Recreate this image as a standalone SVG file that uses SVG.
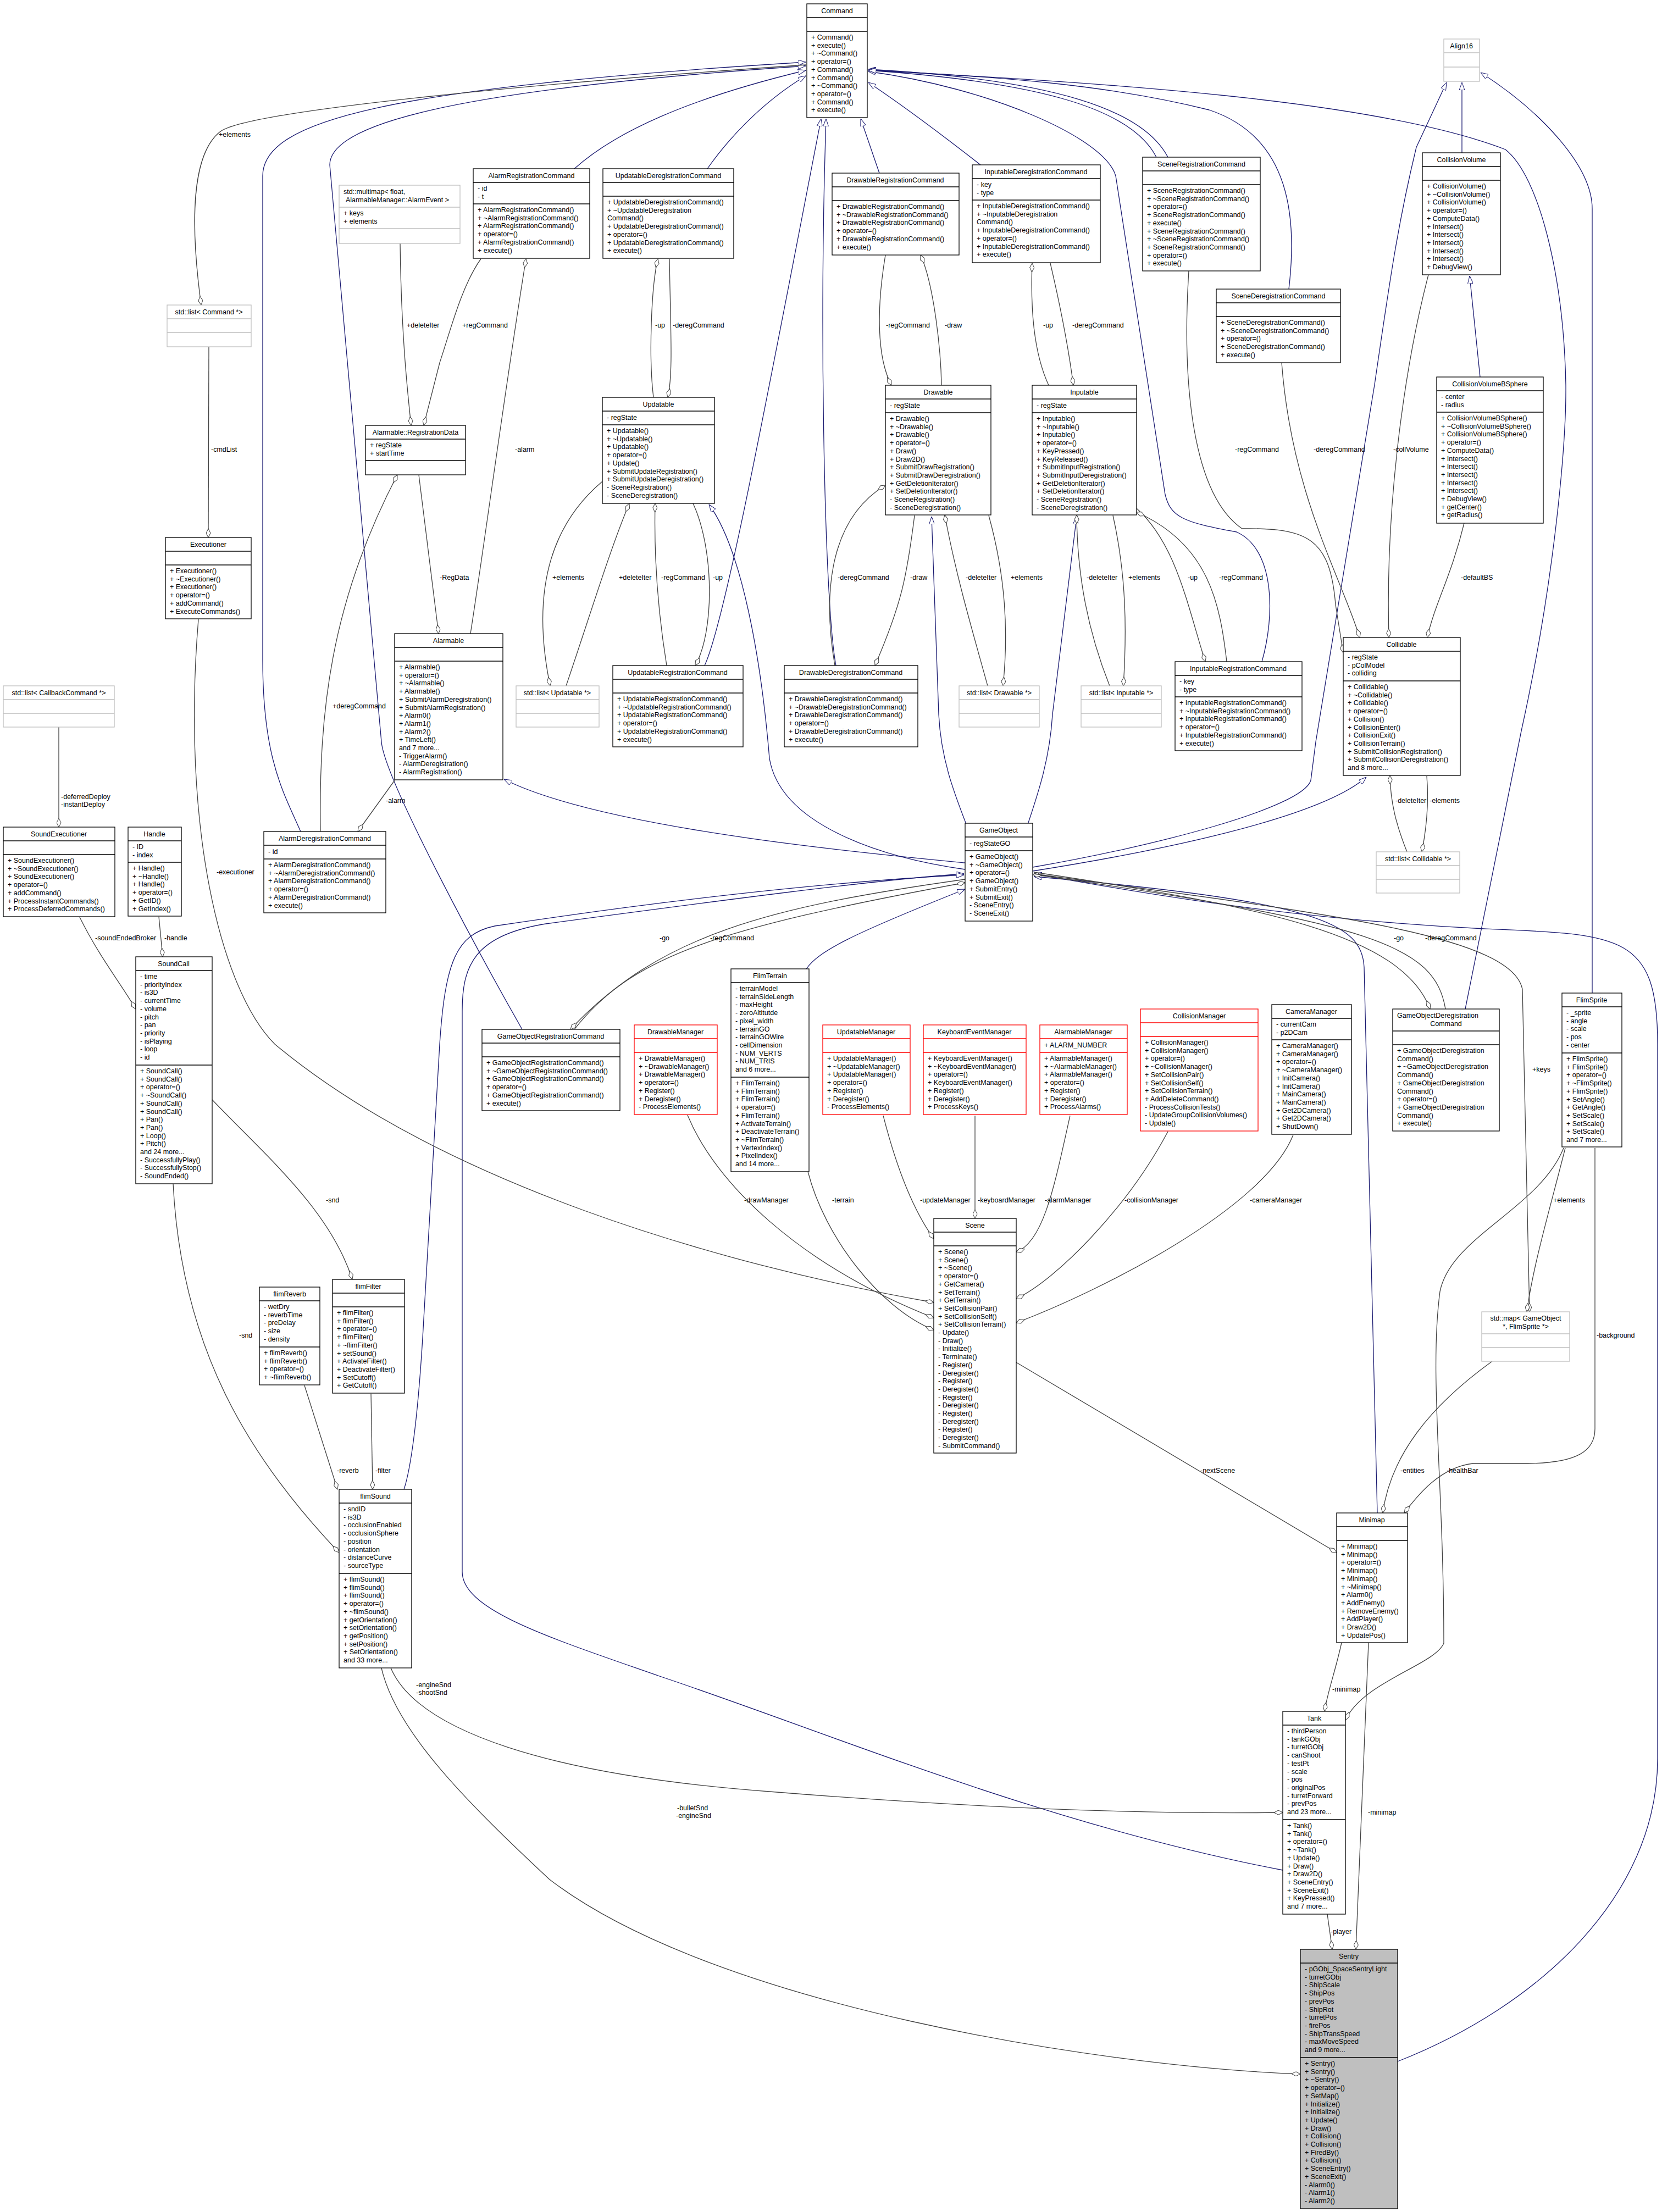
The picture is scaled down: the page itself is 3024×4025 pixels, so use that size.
<svg xmlns="http://www.w3.org/2000/svg" width="3024" height="4025" viewBox="0 0 3024 4025">
<style>
text{font-family:"Liberation Sans",Arial,sans-serif;font-size:12.5px;fill:#000}
.c{text-anchor:middle}
.b{fill:#fff;stroke:#000;stroke-width:1.3}
.g{fill:#fff;stroke:#bfbfbf;stroke-width:1.3}
.r{fill:#fff;stroke:#ff0000;stroke-width:1.3}
.s{fill:#bfbfbf;stroke:#000;stroke-width:1.3}
.lb{stroke:#000;stroke-width:1.3}
.lg{stroke:#bfbfbf;stroke-width:1.3}
.lr{stroke:#ff0000;stroke-width:1.3}
.inh{fill:none;stroke:#191970;stroke-width:1.3;marker-end:url(#tri)}
.use{fill:none;stroke:#404040;stroke-width:1.3;marker-end:url(#dia)}
</style>
<defs>
<marker id="tri" viewBox="0 0 14 10" refX="14" refY="5" markerWidth="14" markerHeight="10" markerUnits="userSpaceOnUse" orient="auto"><path d="M0,0 L14,5 L0,10 Z" fill="#fff" stroke="#191970"/></marker>
<marker id="dia" viewBox="0 0 18 9" refX="17" refY="4.5" markerWidth="18" markerHeight="9" markerUnits="userSpaceOnUse" orient="auto"><path d="M1,4.5 L9,0.5 L17,4.5 L9,8.5 Z" fill="#fff" stroke="#404040"/></marker>
</defs>
<rect width="3024" height="4025" fill="#fff"/>
<g id="connectors">
<path class="inh" d="M547,1513 C515,1440 478,1380 478,1200 L478,320 C478,220 700,160 1466,113"/>
<path class="inh" d="M950,1873 C880,1750 700,1420 694,1350 L600,300 C600,230 800,165 1466,120"/>
<path class="inh" d="M1045,307 C1120,240 1250,180 1466,128"/>
<path class="inh" d="M1287,307 C1320,260 1380,190 1466,138"/>
<path class="inh" d="M1282,1211 C1320,1130 1400,700 1494,216"/>
<path class="inh" d="M1521,1211 C1500,1100 1490,600 1503,216"/>
<path class="inh" d="M1600,315 L1566,216"/>
<path class="inh" d="M1784,300 C1720,250 1640,190 1580,150"/>
<path class="inh" d="M2296,1204 C2320,1120 2320,1000 2250,968 C2150,950 2130,940 2120,900 L2030,320 C2010,250 1800,160 1580,130"/>
<path class="inh" d="M2104,286 C2060,200 1900,150 1580,128"/>
<path class="inh" d="M2125,286 C2080,200 1920,145 1580,126"/>
<path class="inh" d="M2345,526 C2360,400 2350,250 2200,200 C2000,150 1800,140 1580,127"/>
<path class="inh" d="M2666,1836 L2768,1330 C2830,1050 2850,800 2849,700 C2845,500 2800,320 2739,272 C2500,180 2000,150 1580,128"/>
<path class="inh" d="M2897,1807 L2897,380 C2897,300 2800,200 2694,132"/>
<path class="inh" d="M2660,278 L2660,150"/>
<path class="inh" d="M2693,686 L2674,502"/>
<path class="inh" d="M1879,1578 C2100,1540 2370,1470 2385,1420 L2394,1350 L2501,700 C2530,500 2545,400 2577,268 L2632,150"/>
<path class="inh" d="M1879,1585 C2100,1550 2400,1490 2486,1414"/>
<path class="inh" d="M1756,1582 C1600,1560 1420,1500 1400,1380 C1385,1200 1350,1000 1290,918"/>
<path class="inh" d="M1756,1570 C1600,1555 1100,1510 917,1418"/>
<path class="inh" d="M1757,1497 C1735,1440 1712,1380 1708,1300 L1695,940"/>
<path class="inh" d="M1871,1497 C1890,1440 1910,1380 1915,1300 L1959,940"/>
<path class="inh" d="M1467,1763 C1490,1730 1550,1700 1756,1618"/>
<path class="inh" d="M2506,2753 L2482,1760 C2478,1680 2400,1640 1881,1595"/>
<path class="inh" d="M2334,3403 C1900,3320 1500,3150 1200,3050 C1000,2980 841,2930 841,2860 L841,1840 C841,1760 860,1700 1000,1680 C1300,1640 1600,1600 1754,1590"/>
<path class="inh" d="M735,2710 C745,2680 760,2600 771,2400 L800,1900 C810,1750 830,1700 900,1685 C1200,1640 1500,1605 1754,1592"/>
<path class="inh" d="M2543,3751 C2800,3650 3016,3450 3016,3200 L3016,1900 C3016,1700 2950,1700 2700,1690 C2300,1670 2000,1610 1881,1590"/>
<path class="use" d="M1466,118 C1000,150 450,200 400,240 C350,280 345,400 366,555"/>
<path class="use" d="M380,631 L379,978"/>
<path class="use" d="M107,1323 L107,1505"/>
<path class="use" d="M145,1669 C180,1740 220,1790 247,1836"/>
<path class="use" d="M289,1668 L296,1741"/>
<path class="use" d="M728,443 C730,600 740,700 748,774"/>
<path class="use" d="M875,471 C840,520 820,600 800,660 L771,774"/>
<path class="use" d="M762,864 L798,1153"/>
<path class="use" d="M856,1153 C880,1000 920,700 957,471"/>
<path class="use" d="M718,1420 L651,1513"/>
<path class="use" d="M583,1513 C580,1300 600,1100 723,864"/>
<path class="use" d="M1189,723 C1180,650 1185,520 1197,471"/>
<path class="use" d="M1218,471 C1220,600 1225,680 1215,723"/>
<path class="use" d="M1096,876 C1020,940 960,1050 1001,1248"/>
<path class="use" d="M1030,1248 C1080,1100 1110,1000 1145,916"/>
<path class="use" d="M1213,1211 C1195,1100 1190,1000 1192,916"/>
<path class="use" d="M1261,916 C1300,1000 1300,1150 1265,1211"/>
<path class="use" d="M1611,464 C1595,560 1595,650 1622,701"/>
<path class="use" d="M1713,701 C1712,640 1700,520 1675,464"/>
<path class="use" d="M1908,701 C1880,640 1875,560 1878,479"/>
<path class="use" d="M1911,479 C1930,560 1945,640 1953,701"/>
<path class="use" d="M1519,1211 C1500,1100 1500,950 1611,883"/>
<path class="use" d="M1664,938 C1650,1050 1640,1100 1592,1211"/>
<path class="use" d="M1797,1248 C1770,1150 1740,1050 1719,937"/>
<path class="use" d="M1799,938 C1830,1050 1835,1150 1825,1248"/>
<path class="use" d="M2019,1248 C1980,1150 1960,1050 1959,937"/>
<path class="use" d="M2025,938 C2050,1050 2050,1150 2044,1248"/>
<path class="use" d="M2068,925 C2140,990 2160,1100 2193,1204"/>
<path class="use" d="M2232,1204 C2220,1100 2200,990 2068,932"/>
<path class="use" d="M2163,493 C2150,700 2170,900 2260,962 C2380,960 2420,980 2430,1100 L2444,1188"/>
<path class="use" d="M2332,660 C2350,900 2440,1050 2474,1160"/>
<path class="use" d="M2599,500 C2560,650 2520,900 2527,1160"/>
<path class="use" d="M2664,952 C2640,1050 2610,1100 2597,1160"/>
<path class="use" d="M2560,1550 C2540,1500 2530,1460 2529,1411"/>
<path class="use" d="M2596,1412 C2600,1460 2595,1510 2587,1550"/>
<path class="use" d="M1756,1600 C1400,1650 1200,1700 1038,1873"/>
<path class="use" d="M1045,1873 C1150,1740 1300,1690 1756,1606"/>
<path class="use" d="M1881,1587 C2300,1650 2550,1700 2602,1836"/>
<path class="use" d="M2630,1836 C2610,1720 2500,1680 1879,1591"/>
<path class="use" d="M1881,1590 C2400,1660 2750,1700 2770,1800 L2783,2387"/>
<path class="use" d="M2848,2089 C2820,2200 2790,2300 2778,2387"/>
<path class="use" d="M2715,2477 C2600,2560 2530,2650 2516,2753"/>
<path class="use" d="M2902,2089 L2902,2600 C2902,2640 2870,2662 2780,2663 L2680,2663 C2620,2670 2580,2720 2555,2753"/>
<path class="use" d="M2845,2089 C2800,2200 2640,2250 2620,2350 C2600,2500 2627,2700 2627,2990 C2610,3030 2480,3060 2448,3130"/>
<path class="use" d="M1849,2479 L2432,2825"/>
<path class="use" d="M2441,2989 C2430,3040 2415,3080 2410,3114"/>
<path class="use" d="M2490,2989 L2467,3547"/>
<path class="use" d="M2415,3483 L2424,3547"/>
<path class="use" d="M711,3035 C760,3150 1000,3230 1400,3260 C1900,3300 2200,3300 2334,3298"/>
<path class="use" d="M694,3035 C720,3150 850,3280 1000,3420 C1300,3650 2000,3760 2366,3774"/>
<path class="use" d="M554,2521 L614,2710"/>
<path class="use" d="M675,2536 L678,2710"/>
<path class="use" d="M315,2154 C330,2450 450,2650 617,2825"/>
<path class="use" d="M386,2001 C480,2100 600,2200 641,2328"/>
<path class="use" d="M361,1127 C330,1500 400,1800 500,1900 C800,2150 1300,2300 1699,2370"/>
<path class="use" d="M1251,2029 C1300,2150 1450,2300 1699,2398"/>
<path class="use" d="M1470,2132 C1500,2250 1600,2380 1699,2420"/>
<path class="use" d="M1607,2030 C1630,2120 1660,2200 1699,2254"/>
<path class="use" d="M1774,2030 L1774,2217"/>
<path class="use" d="M1947,2030 C1920,2150 1900,2260 1849,2278"/>
<path class="use" d="M2125,2059 C2050,2200 1920,2330 1849,2363"/>
<path class="use" d="M2353,2065 C2300,2200 2000,2350 1849,2407"/>
<text x="398" y="249">+elements</text>
<text x="384" y="822">-cmdList</text>
<text x="111" y="1454">-deferredDeploy</text><text x="111" y="1468">-instantDeploy</text>
<text x="173" y="1711">-soundEndedBroker</text>
<text x="299" y="1711">-handle</text>
<text x="740" y="596">+deleteIter</text>
<text x="841" y="596">+regCommand</text>
<text x="800" y="1055">-RegData</text>
<text x="937" y="822">-alarm</text>
<text x="702" y="1461">-alarm</text>
<text x="605" y="1289">+deregCommand</text>
<text x="394" y="1591">-executioner</text>
<text x="1192" y="596">-up</text>
<text x="1224" y="596">-deregCommand</text>
<text x="1005" y="1055">+elements</text>
<text x="1126" y="1055">+deleteIter</text>
<text x="1203" y="1055">-regCommand</text>
<text x="1297" y="1055">-up</text>
<text x="1612" y="596">-regCommand</text>
<text x="1719" y="596">-draw</text>
<text x="1898" y="596">-up</text>
<text x="1951" y="596">-deregCommand</text>
<text x="1524" y="1055">-deregCommand</text>
<text x="1656" y="1055">-draw</text>
<text x="1757" y="1055">-deleteIter</text>
<text x="1839" y="1055">+elements</text>
<text x="1977" y="1055">-deleteIter</text>
<text x="2053" y="1055">+elements</text>
<text x="2161" y="1055">-up</text>
<text x="2218" y="1055">-regCommand</text>
<text x="2247" y="822">-regCommand</text>
<text x="2390" y="822">-deregCommand</text>
<text x="2535" y="822">-collVolume</text>
<text x="2658" y="1055">-defaultBS</text>
<text x="2539" y="1461">-deleteIter</text>
<text x="2601" y="1461">-elements</text>
<text x="1200" y="1711">-go</text>
<text x="1292" y="1711">-regCommand</text>
<text x="2536" y="1711">-go</text>
<text x="2593" y="1711">-deregCommand</text>
<text x="2788" y="1950">+keys</text>
<text x="2826" y="2188">+elements</text>
<text x="2905" y="2434">-background</text>
<text x="1354" y="2188">-drawManager</text>
<text x="1514" y="2188">-terrain</text>
<text x="1674" y="2188">-updateManager</text>
<text x="1779" y="2188">-keyboardManager</text>
<text x="1901" y="2188">-alarmManager</text>
<text x="2046" y="2188">-collisionManager</text>
<text x="2274" y="2188">-cameraManager</text>
<text x="593" y="2188">-snd</text>
<text x="435" y="2434">-snd</text>
<text x="613" y="2680">-reverb</text>
<text x="683" y="2680">-filter</text>
<text x="2184" y="2680">-nextScene</text>
<text x="2548" y="2680">-entities</text>
<text x="2632" y="2680">-healthBar</text>
<text x="2424" y="3078">-minimap</text>
<text x="2489" y="3302">-minimap</text>
<text x="2421" y="3519">-player</text>
<text x="757" y="3070">-engineSnd</text><text x="757" y="3084">-shootSnd</text>
<text x="1232" y="3294">-bulletSnd</text><text x="1230" y="3308">-engineSnd</text>
</g>
<g id="n_Command"><rect class="b" x="1468" y="7" width="110" height="207"/><line class="lb" x1="1468" y1="32" x2="1578" y2="32"/><line class="lb" x1="1468" y1="57" x2="1578" y2="57"/><text class="c" x="1523" y="24">Command</text><text y="72"><tspan x="1476">+ Command()</tspan><tspan x="1476" dy="14.7">+ execute()</tspan><tspan x="1476" dy="14.7">+ ~Command()</tspan><tspan x="1476" dy="14.7">+ operator=()</tspan><tspan x="1476" dy="14.7">+ Command()</tspan><tspan x="1476" dy="14.7">+ Command()</tspan><tspan x="1476" dy="14.7">+ ~Command()</tspan><tspan x="1476" dy="14.7">+ operator=()</tspan><tspan x="1476" dy="14.7">+ Command()</tspan><tspan x="1476" dy="14.7">+ execute()</tspan></text></g>
<g id="n_Align16"><rect class="g" x="2627" y="71" width="65" height="77"/><line class="lg" x1="2627" y1="96" x2="2692" y2="96"/><line class="lg" x1="2627" y1="122" x2="2692" y2="122"/><text class="c" x="2659" y="88">Align16</text></g>
<g id="n_ARC"><rect class="b" x="861" y="307" width="212" height="163"/><line class="lb" x1="861" y1="332" x2="1073" y2="332"/><line class="lb" x1="861" y1="371" x2="1073" y2="371"/><text class="c" x="967" y="324">AlarmRegistrationCommand</text><text y="347"><tspan x="869">- id</tspan><tspan x="869" dy="14.7">- t</tspan></text><text y="386"><tspan x="869">+ AlarmRegistrationCommand()</tspan><tspan x="869" dy="14.7">+ ~AlarmRegistrationCommand()</tspan><tspan x="869" dy="14.7">+ AlarmRegistrationCommand()</tspan><tspan x="869" dy="14.7">+ operator=()</tspan><tspan x="869" dy="14.7">+ AlarmRegistrationCommand()</tspan><tspan x="869" dy="14.7">+ execute()</tspan></text></g>
<g id="n_UDC"><rect class="b" x="1097" y="307" width="238" height="163"/><line class="lb" x1="1097" y1="332" x2="1335" y2="332"/><line class="lb" x1="1097" y1="357" x2="1335" y2="357"/><text class="c" x="1216" y="324">UpdatableDeregistrationCommand</text><text y="372"><tspan x="1105">+ UpdatableDeregistrationCommand()</tspan><tspan x="1105" dy="14.7">+ ~UpdatableDeregistration</tspan><tspan x="1105" dy="14.7">Command()</tspan><tspan x="1105" dy="14.7">+ UpdatableDeregistrationCommand()</tspan><tspan x="1105" dy="14.7">+ operator=()</tspan><tspan x="1105" dy="14.7">+ UpdatableDeregistrationCommand()</tspan><tspan x="1105" dy="14.7">+ execute()</tspan></text></g>
<g id="n_multimap"><rect class="g" x="617" y="337" width="220" height="106"/><line class="lg" x1="617" y1="377" x2="837" y2="377"/><line class="lg" x1="617" y1="416" x2="837" y2="416"/><text x="625" y="353">std::multimap&lt; float,</text><text x="629" y="368">AlarmableManager::AlarmEvent &gt;</text><text y="392"><tspan x="625">+ keys</tspan><tspan x="625" dy="14.7">+ elements</tspan></text></g>
<g id="n_RegistrationData"><rect class="b" x="665" y="774" width="182" height="90"/><line class="lb" x1="665" y1="799" x2="847" y2="799"/><line class="lb" x1="665" y1="838" x2="847" y2="838"/><text class="c" x="756" y="791">Alarmable::RegistrationData</text><text y="814"><tspan x="673">+ regState</tspan><tspan x="673" dy="14.7">+ startTime</tspan></text></g>
<g id="n_listCommand"><rect class="g" x="304" y="555" width="153" height="76"/><line class="lg" x1="304" y1="580" x2="457" y2="580"/><line class="lg" x1="304" y1="605" x2="457" y2="605"/><text class="c" x="380" y="572">std::list&lt; Command *&gt;</text></g>
<g id="n_Executioner"><rect class="b" x="301" y="978" width="156" height="148"/><line class="lb" x1="301" y1="1003" x2="457" y2="1003"/><line class="lb" x1="301" y1="1028" x2="457" y2="1028"/><text class="c" x="379" y="995">Executioner</text><text y="1043"><tspan x="309">+ Executioner()</tspan><tspan x="309" dy="14.7">+ ~Executioner()</tspan><tspan x="309" dy="14.7">+ Executioner()</tspan><tspan x="309" dy="14.7">+ operator=()</tspan><tspan x="309" dy="14.7">+ addCommand()</tspan><tspan x="309" dy="14.7">+ ExecuteCommands()</tspan></text></g>
<g id="n_Updatable"><rect class="b" x="1096" y="723" width="204" height="193"/><line class="lb" x1="1096" y1="748" x2="1300" y2="748"/><line class="lb" x1="1096" y1="773" x2="1300" y2="773"/><text class="c" x="1198" y="740">Updatable</text><text x="1104" y="764">- regState</text><text y="788"><tspan x="1104">+ Updatable()</tspan><tspan x="1104" dy="14.7">+ ~Updatable()</tspan><tspan x="1104" dy="14.7">+ Updatable()</tspan><tspan x="1104" dy="14.7">+ operator=()</tspan><tspan x="1104" dy="14.7">+ Update()</tspan><tspan x="1104" dy="14.7">+ SubmitUpdateRegistration()</tspan><tspan x="1104" dy="14.7">+ SubmitUpdateDeregistration()</tspan><tspan x="1104" dy="14.7">- SceneRegistration()</tspan><tspan x="1104" dy="14.7">- SceneDeregistration()</tspan></text></g>
<g id="n_Alarmable"><rect class="b" x="718" y="1153" width="197" height="266"/><line class="lb" x1="718" y1="1178" x2="915" y2="1178"/><line class="lb" x1="718" y1="1203" x2="915" y2="1203"/><text class="c" x="816" y="1170">Alarmable</text><text y="1218"><tspan x="726">+ Alarmable()</tspan><tspan x="726" dy="14.7">+ operator=()</tspan><tspan x="726" dy="14.7">+ ~Alarmable()</tspan><tspan x="726" dy="14.7">+ Alarmable()</tspan><tspan x="726" dy="14.7">+ SubmitAlarmDeregistration()</tspan><tspan x="726" dy="14.7">+ SubmitAlarmRegistration()</tspan><tspan x="726" dy="14.7">+ Alarm0()</tspan><tspan x="726" dy="14.7">+ Alarm1()</tspan><tspan x="726" dy="14.7">+ Alarm2()</tspan><tspan x="726" dy="14.7">+ TimeLeft()</tspan><tspan x="726" dy="14.7">and 7 more...</tspan><tspan x="726" dy="14.7">- TriggerAlarm()</tspan><tspan x="726" dy="14.7">- AlarmDeregistration()</tspan><tspan x="726" dy="14.7">- AlarmRegistration()</tspan></text></g>
<g id="n_listUpdatable"><rect class="g" x="939" y="1248" width="151" height="75"/><line class="lg" x1="939" y1="1273" x2="1090" y2="1273"/><line class="lg" x1="939" y1="1298" x2="1090" y2="1298"/><text class="c" x="1014" y="1265">std::list&lt; Updatable *&gt;</text></g>
<g id="n_listCallback"><rect class="g" x="6" y="1248" width="202" height="75"/><line class="lg" x1="6" y1="1273" x2="208" y2="1273"/><line class="lg" x1="6" y1="1298" x2="208" y2="1298"/><text class="c" x="107" y="1265">std::list&lt; CallbackCommand *&gt;</text></g>
<g id="n_URC"><rect class="b" x="1115" y="1211" width="237" height="148"/><line class="lb" x1="1115" y1="1236" x2="1352" y2="1236"/><line class="lb" x1="1115" y1="1261" x2="1352" y2="1261"/><text class="c" x="1233" y="1228">UpdatableRegistrationCommand</text><text y="1276"><tspan x="1123">+ UpdatableRegistrationCommand()</tspan><tspan x="1123" dy="14.7">+ ~UpdatableRegistrationCommand()</tspan><tspan x="1123" dy="14.7">+ UpdatableRegistrationCommand()</tspan><tspan x="1123" dy="14.7">+ operator=()</tspan><tspan x="1123" dy="14.7">+ UpdatableRegistrationCommand()</tspan><tspan x="1123" dy="14.7">+ execute()</tspan></text></g>
<g id="n_DDC"><rect class="b" x="1427" y="1211" width="243" height="148"/><line class="lb" x1="1427" y1="1236" x2="1670" y2="1236"/><line class="lb" x1="1427" y1="1261" x2="1670" y2="1261"/><text class="c" x="1548" y="1228">DrawableDeregistrationCommand</text><text y="1276"><tspan x="1435">+ DrawableDeregistrationCommand()</tspan><tspan x="1435" dy="14.7">+ ~DrawableDeregistrationCommand()</tspan><tspan x="1435" dy="14.7">+ DrawableDeregistrationCommand()</tspan><tspan x="1435" dy="14.7">+ operator=()</tspan><tspan x="1435" dy="14.7">+ DrawableDeregistrationCommand()</tspan><tspan x="1435" dy="14.7">+ execute()</tspan></text></g>
<g id="n_DRC"><rect class="b" x="1514" y="315" width="231" height="149"/><line class="lb" x1="1514" y1="340" x2="1745" y2="340"/><line class="lb" x1="1514" y1="365" x2="1745" y2="365"/><text class="c" x="1629" y="332">DrawableRegistrationCommand</text><text y="380"><tspan x="1522">+ DrawableRegistrationCommand()</tspan><tspan x="1522" dy="14.7">+ ~DrawableRegistrationCommand()</tspan><tspan x="1522" dy="14.7">+ DrawableRegistrationCommand()</tspan><tspan x="1522" dy="14.7">+ operator=()</tspan><tspan x="1522" dy="14.7">+ DrawableRegistrationCommand()</tspan><tspan x="1522" dy="14.7">+ execute()</tspan></text></g>
<g id="n_IDC"><rect class="b" x="1769" y="300" width="233" height="178"/><line class="lb" x1="1769" y1="325" x2="2002" y2="325"/><line class="lb" x1="1769" y1="364" x2="2002" y2="364"/><text class="c" x="1885" y="317">InputableDeregistrationCommand</text><text y="340"><tspan x="1777">- key</tspan><tspan x="1777" dy="14.7">- type</tspan></text><text y="379"><tspan x="1777">+ InputableDeregistrationCommand()</tspan><tspan x="1777" dy="14.7">+ ~InputableDeregistration</tspan><tspan x="1777" dy="14.7">Command()</tspan><tspan x="1777" dy="14.7">+ InputableDeregistrationCommand()</tspan><tspan x="1777" dy="14.7">+ operator=()</tspan><tspan x="1777" dy="14.7">+ InputableDeregistrationCommand()</tspan><tspan x="1777" dy="14.7">+ execute()</tspan></text></g>
<g id="n_SRC"><rect class="b" x="2079" y="286" width="214" height="207"/><line class="lb" x1="2079" y1="311" x2="2293" y2="311"/><line class="lb" x1="2079" y1="336" x2="2293" y2="336"/><text class="c" x="2186" y="303">SceneRegistrationCommand</text><text y="351"><tspan x="2087">+ SceneRegistrationCommand()</tspan><tspan x="2087" dy="14.7">+ ~SceneRegistrationCommand()</tspan><tspan x="2087" dy="14.7">+ operator=()</tspan><tspan x="2087" dy="14.7">+ SceneRegistrationCommand()</tspan><tspan x="2087" dy="14.7">+ execute()</tspan><tspan x="2087" dy="14.7">+ SceneRegistrationCommand()</tspan><tspan x="2087" dy="14.7">+ ~SceneRegistrationCommand()</tspan><tspan x="2087" dy="14.7">+ SceneRegistrationCommand()</tspan><tspan x="2087" dy="14.7">+ operator=()</tspan><tspan x="2087" dy="14.7">+ execute()</tspan></text></g>
<g id="n_SDC"><rect class="b" x="2213" y="526" width="226" height="134"/><line class="lb" x1="2213" y1="551" x2="2439" y2="551"/><line class="lb" x1="2213" y1="576" x2="2439" y2="576"/><text class="c" x="2326" y="543">SceneDeregistrationCommand</text><text y="591"><tspan x="2221">+ SceneDeregistrationCommand()</tspan><tspan x="2221" dy="14.7">+ ~SceneDeregistrationCommand()</tspan><tspan x="2221" dy="14.7">+ operator=()</tspan><tspan x="2221" dy="14.7">+ SceneDeregistrationCommand()</tspan><tspan x="2221" dy="14.7">+ execute()</tspan></text></g>
<g id="n_CollisionVolume"><rect class="b" x="2588" y="278" width="142" height="222"/><line class="lb" x1="2588" y1="303" x2="2730" y2="303"/><line class="lb" x1="2588" y1="328" x2="2730" y2="328"/><text class="c" x="2659" y="295">CollisionVolume</text><text y="343"><tspan x="2596">+ CollisionVolume()</tspan><tspan x="2596" dy="14.7">+ ~CollisionVolume()</tspan><tspan x="2596" dy="14.7">+ CollisionVolume()</tspan><tspan x="2596" dy="14.7">+ operator=()</tspan><tspan x="2596" dy="14.7">+ ComputeData()</tspan><tspan x="2596" dy="14.7">+ Intersect()</tspan><tspan x="2596" dy="14.7">+ Intersect()</tspan><tspan x="2596" dy="14.7">+ Intersect()</tspan><tspan x="2596" dy="14.7">+ Intersect()</tspan><tspan x="2596" dy="14.7">+ Intersect()</tspan><tspan x="2596" dy="14.7">+ DebugView()</tspan></text></g>
<g id="n_CVBSphere"><rect class="b" x="2614" y="686" width="194" height="266"/><line class="lb" x1="2614" y1="711" x2="2808" y2="711"/><line class="lb" x1="2614" y1="750" x2="2808" y2="750"/><text class="c" x="2711" y="703">CollisionVolumeBSphere</text><text y="726"><tspan x="2622">- center</tspan><tspan x="2622" dy="14.7">- radius</tspan></text><text y="765"><tspan x="2622">+ CollisionVolumeBSphere()</tspan><tspan x="2622" dy="14.7">+ ~CollisionVolumeBSphere()</tspan><tspan x="2622" dy="14.7">+ CollisionVolumeBSphere()</tspan><tspan x="2622" dy="14.7">+ operator=()</tspan><tspan x="2622" dy="14.7">+ ComputeData()</tspan><tspan x="2622" dy="14.7">+ Intersect()</tspan><tspan x="2622" dy="14.7">+ Intersect()</tspan><tspan x="2622" dy="14.7">+ Intersect()</tspan><tspan x="2622" dy="14.7">+ Intersect()</tspan><tspan x="2622" dy="14.7">+ Intersect()</tspan><tspan x="2622" dy="14.7">+ DebugView()</tspan><tspan x="2622" dy="14.7">+ getCenter()</tspan><tspan x="2622" dy="14.7">+ getRadius()</tspan></text></g>
<g id="n_Drawable"><rect class="b" x="1611" y="701" width="192" height="236"/><line class="lb" x1="1611" y1="726" x2="1803" y2="726"/><line class="lb" x1="1611" y1="751" x2="1803" y2="751"/><text class="c" x="1707" y="718">Drawable</text><text x="1619" y="742">- regState</text><text y="766"><tspan x="1619">+ Drawable()</tspan><tspan x="1619" dy="14.7">+ ~Drawable()</tspan><tspan x="1619" dy="14.7">+ Drawable()</tspan><tspan x="1619" dy="14.7">+ operator=()</tspan><tspan x="1619" dy="14.7">+ Draw()</tspan><tspan x="1619" dy="14.7">+ Draw2D()</tspan><tspan x="1619" dy="14.7">+ SubmitDrawRegistration()</tspan><tspan x="1619" dy="14.7">+ SubmitDrawDeregistration()</tspan><tspan x="1619" dy="14.7">+ GetDeletionIterator()</tspan><tspan x="1619" dy="14.7">+ SetDeletionIterator()</tspan><tspan x="1619" dy="14.7">- SceneRegistration()</tspan><tspan x="1619" dy="14.7">- SceneDeregistration()</tspan></text></g>
<g id="n_Inputable"><rect class="b" x="1878" y="701" width="190" height="236"/><line class="lb" x1="1878" y1="726" x2="2068" y2="726"/><line class="lb" x1="1878" y1="751" x2="2068" y2="751"/><text class="c" x="1973" y="718">Inputable</text><text x="1886" y="742">- regState</text><text y="766"><tspan x="1886">+ Inputable()</tspan><tspan x="1886" dy="14.7">+ ~Inputable()</tspan><tspan x="1886" dy="14.7">+ Inputable()</tspan><tspan x="1886" dy="14.7">+ operator=()</tspan><tspan x="1886" dy="14.7">+ KeyPressed()</tspan><tspan x="1886" dy="14.7">+ KeyReleased()</tspan><tspan x="1886" dy="14.7">+ SubmitInputRegistration()</tspan><tspan x="1886" dy="14.7">+ SubmitInputDeregistration()</tspan><tspan x="1886" dy="14.7">+ GetDeletionIterator()</tspan><tspan x="1886" dy="14.7">+ SetDeletionIterator()</tspan><tspan x="1886" dy="14.7">- SceneRegistration()</tspan><tspan x="1886" dy="14.7">- SceneDeregistration()</tspan></text></g>
<g id="n_listDrawable"><rect class="g" x="1745" y="1248" width="146" height="75"/><line class="lg" x1="1745" y1="1273" x2="1891" y2="1273"/><line class="lg" x1="1745" y1="1298" x2="1891" y2="1298"/><text class="c" x="1818" y="1265">std::list&lt; Drawable *&gt;</text></g>
<g id="n_listInputable"><rect class="g" x="1967" y="1248" width="146" height="75"/><line class="lg" x1="1967" y1="1273" x2="2113" y2="1273"/><line class="lg" x1="1967" y1="1298" x2="2113" y2="1298"/><text class="c" x="2040" y="1265">std::list&lt; Inputable *&gt;</text></g>
<g id="n_IRC"><rect class="b" x="2138" y="1204" width="231" height="162"/><line class="lb" x1="2138" y1="1229" x2="2369" y2="1229"/><line class="lb" x1="2138" y1="1268" x2="2369" y2="1268"/><text class="c" x="2253" y="1221">InputableRegistrationCommand</text><text y="1244"><tspan x="2146">- key</tspan><tspan x="2146" dy="14.7">- type</tspan></text><text y="1283"><tspan x="2146">+ InputableRegistrationCommand()</tspan><tspan x="2146" dy="14.7">+ ~InputableRegistrationCommand()</tspan><tspan x="2146" dy="14.7">+ InputableRegistrationCommand()</tspan><tspan x="2146" dy="14.7">+ operator=()</tspan><tspan x="2146" dy="14.7">+ InputableRegistrationCommand()</tspan><tspan x="2146" dy="14.7">+ execute()</tspan></text></g>
<g id="n_Collidable"><rect class="b" x="2444" y="1160" width="213" height="251"/><line class="lb" x1="2444" y1="1185" x2="2657" y2="1185"/><line class="lb" x1="2444" y1="1239" x2="2657" y2="1239"/><text class="c" x="2550" y="1177">Collidable</text><text y="1200"><tspan x="2452">- regState</tspan><tspan x="2452" dy="14.7">- pColModel</tspan><tspan x="2452" dy="14.7">- colliding</tspan></text><text y="1254"><tspan x="2452">+ Collidable()</tspan><tspan x="2452" dy="14.7">+ ~Collidable()</tspan><tspan x="2452" dy="14.7">+ Collidable()</tspan><tspan x="2452" dy="14.7">+ operator=()</tspan><tspan x="2452" dy="14.7">+ Collision()</tspan><tspan x="2452" dy="14.7">+ CollisionEnter()</tspan><tspan x="2452" dy="14.7">+ CollisionExit()</tspan><tspan x="2452" dy="14.7">+ CollisionTerrain()</tspan><tspan x="2452" dy="14.7">+ SubmitCollisionRegistration()</tspan><tspan x="2452" dy="14.7">+ SubmitCollisionDeregistration()</tspan><tspan x="2452" dy="14.7">and 8 more...</tspan></text></g>
<g id="n_listCollidable"><rect class="g" x="2504" y="1550" width="152" height="75"/><line class="lg" x1="2504" y1="1575" x2="2656" y2="1575"/><line class="lg" x1="2504" y1="1600" x2="2656" y2="1600"/><text class="c" x="2580" y="1567">std::list&lt; Collidable *&gt;</text></g>
<g id="n_SoundExecutioner"><rect class="b" x="6" y="1505" width="203" height="163"/><line class="lb" x1="6" y1="1530" x2="209" y2="1530"/><line class="lb" x1="6" y1="1555" x2="209" y2="1555"/><text class="c" x="107" y="1522">SoundExecutioner</text><text y="1570"><tspan x="14">+ SoundExecutioner()</tspan><tspan x="14" dy="14.7">+ ~SoundExecutioner()</tspan><tspan x="14" dy="14.7">+ SoundExecutioner()</tspan><tspan x="14" dy="14.7">+ operator=()</tspan><tspan x="14" dy="14.7">+ addCommand()</tspan><tspan x="14" dy="14.7">+ ProcessInstantCommands()</tspan><tspan x="14" dy="14.7">+ ProcessDeferredCommands()</tspan></text></g>
<g id="n_Handle"><rect class="b" x="233" y="1505" width="97" height="162"/><line class="lb" x1="233" y1="1530" x2="330" y2="1530"/><line class="lb" x1="233" y1="1569" x2="330" y2="1569"/><text class="c" x="281" y="1522">Handle</text><text y="1545"><tspan x="241">- ID</tspan><tspan x="241" dy="14.7">- index</tspan></text><text y="1584"><tspan x="241">+ Handle()</tspan><tspan x="241" dy="14.7">+ ~Handle()</tspan><tspan x="241" dy="14.7">+ Handle()</tspan><tspan x="241" dy="14.7">+ operator=()</tspan><tspan x="241" dy="14.7">+ GetID()</tspan><tspan x="241" dy="14.7">+ GetIndex()</tspan></text></g>
<g id="n_ADC"><rect class="b" x="480" y="1513" width="222" height="148"/><line class="lb" x1="480" y1="1538" x2="702" y2="1538"/><line class="lb" x1="480" y1="1563" x2="702" y2="1563"/><text class="c" x="591" y="1530">AlarmDeregistrationCommand</text><text x="488" y="1554">- id</text><text y="1578"><tspan x="488">+ AlarmDeregistrationCommand()</tspan><tspan x="488" dy="14.7">+ ~AlarmDeregistrationCommand()</tspan><tspan x="488" dy="14.7">+ AlarmDeregistrationCommand()</tspan><tspan x="488" dy="14.7">+ operator=()</tspan><tspan x="488" dy="14.7">+ AlarmDeregistrationCommand()</tspan><tspan x="488" dy="14.7">+ execute()</tspan></text></g>
<g id="n_SoundCall"><rect class="b" x="247" y="1741" width="139" height="413"/><line class="lb" x1="247" y1="1766" x2="386" y2="1766"/><line class="lb" x1="247" y1="1938" x2="386" y2="1938"/><text class="c" x="316" y="1758">SoundCall</text><text y="1781"><tspan x="255">- time</tspan><tspan x="255" dy="14.7">- priorityIndex</tspan><tspan x="255" dy="14.7">- is3D</tspan><tspan x="255" dy="14.7">- currentTime</tspan><tspan x="255" dy="14.7">- volume</tspan><tspan x="255" dy="14.7">- pitch</tspan><tspan x="255" dy="14.7">- pan</tspan><tspan x="255" dy="14.7">- priority</tspan><tspan x="255" dy="14.7">- isPlaying</tspan><tspan x="255" dy="14.7">- loop</tspan><tspan x="255" dy="14.7">- id</tspan></text><text y="1953"><tspan x="255">+ SoundCall()</tspan><tspan x="255" dy="14.7">+ SoundCall()</tspan><tspan x="255" dy="14.7">+ operator=()</tspan><tspan x="255" dy="14.7">+ ~SoundCall()</tspan><tspan x="255" dy="14.7">+ SoundCall()</tspan><tspan x="255" dy="14.7">+ SoundCall()</tspan><tspan x="255" dy="14.7">+ Pan()</tspan><tspan x="255" dy="14.7">+ Pan()</tspan><tspan x="255" dy="14.7">+ Loop()</tspan><tspan x="255" dy="14.7">+ Pitch()</tspan><tspan x="255" dy="14.7">and 24 more...</tspan><tspan x="255" dy="14.7">- SuccessfullyPlay()</tspan><tspan x="255" dy="14.7">- SuccessfullyStop()</tspan><tspan x="255" dy="14.7">- SoundEnded()</tspan></text></g>
<g id="n_GORC"><rect class="b" x="877" y="1873" width="251" height="148"/><line class="lb" x1="877" y1="1898" x2="1128" y2="1898"/><line class="lb" x1="877" y1="1923" x2="1128" y2="1923"/><text class="c" x="1002" y="1890">GameObjectRegistrationCommand</text><text y="1938"><tspan x="885">+ GameObjectRegistrationCommand()</tspan><tspan x="885" dy="14.7">+ ~GameObjectRegistrationCommand()</tspan><tspan x="885" dy="14.7">+ GameObjectRegistrationCommand()</tspan><tspan x="885" dy="14.7">+ operator=()</tspan><tspan x="885" dy="14.7">+ GameObjectRegistrationCommand()</tspan><tspan x="885" dy="14.7">+ execute()</tspan></text></g>
<g id="n_DrawableManager"><rect class="r" x="1154" y="1865" width="151" height="163"/><line class="lr" x1="1154" y1="1890" x2="1305" y2="1890"/><line class="lr" x1="1154" y1="1915" x2="1305" y2="1915"/><text class="c" x="1229" y="1882">DrawableManager</text><text y="1930"><tspan x="1162">+ DrawableManager()</tspan><tspan x="1162" dy="14.7">+ ~DrawableManager()</tspan><tspan x="1162" dy="14.7">+ DrawableManager()</tspan><tspan x="1162" dy="14.7">+ operator=()</tspan><tspan x="1162" dy="14.7">+ Register()</tspan><tspan x="1162" dy="14.7">+ Deregister()</tspan><tspan x="1162" dy="14.7">- ProcessElements()</tspan></text></g>
<g id="n_FlimTerrain"><rect class="b" x="1330" y="1763" width="142" height="369"/><line class="lb" x1="1330" y1="1788" x2="1472" y2="1788"/><line class="lb" x1="1330" y1="1960" x2="1472" y2="1960"/><text class="c" x="1401" y="1780">FlimTerrain</text><text y="1803"><tspan x="1338">- terrainModel</tspan><tspan x="1338" dy="14.7">- terrainSideLength</tspan><tspan x="1338" dy="14.7">- maxHeight</tspan><tspan x="1338" dy="14.7">- zeroAltitutde</tspan><tspan x="1338" dy="14.7">- pixel_width</tspan><tspan x="1338" dy="14.7">- terrainGO</tspan><tspan x="1338" dy="14.7">- terrainGOWire</tspan><tspan x="1338" dy="14.7">- cellDimension</tspan><tspan x="1338" dy="14.7">- NUM_VERTS</tspan><tspan x="1338" dy="14.7">- NUM_TRIS</tspan><tspan x="1338" dy="14.7">and 6 more...</tspan></text><text y="1975"><tspan x="1338">+ FlimTerrain()</tspan><tspan x="1338" dy="14.7">+ FlimTerrain()</tspan><tspan x="1338" dy="14.7">+ FlimTerrain()</tspan><tspan x="1338" dy="14.7">+ operator=()</tspan><tspan x="1338" dy="14.7">+ FlimTerrain()</tspan><tspan x="1338" dy="14.7">+ ActivateTerrain()</tspan><tspan x="1338" dy="14.7">+ DeactivateTerrain()</tspan><tspan x="1338" dy="14.7">+ ~FlimTerrain()</tspan><tspan x="1338" dy="14.7">+ VertexIndex()</tspan><tspan x="1338" dy="14.7">+ PixelIndex()</tspan><tspan x="1338" dy="14.7">and 14 more...</tspan></text></g>
<g id="n_flimReverb"><rect class="b" x="472" y="2342" width="110" height="178"/><line class="lb" x1="472" y1="2367" x2="582" y2="2367"/><line class="lb" x1="472" y1="2451" x2="582" y2="2451"/><text class="c" x="527" y="2359">flimReverb</text><text y="2382"><tspan x="480">- wetDry</tspan><tspan x="480" dy="14.7">- reverbTime</tspan><tspan x="480" dy="14.7">- preDelay</tspan><tspan x="480" dy="14.7">- size</tspan><tspan x="480" dy="14.7">- density</tspan></text><text y="2466"><tspan x="480">+ flimReverb()</tspan><tspan x="480" dy="14.7">+ flimReverb()</tspan><tspan x="480" dy="14.7">+ operator=()</tspan><tspan x="480" dy="14.7">+ ~flimReverb()</tspan></text></g>
<g id="n_flimFilter"><rect class="b" x="605" y="2328" width="131" height="207"/><line class="lb" x1="605" y1="2353" x2="736" y2="2353"/><line class="lb" x1="605" y1="2378" x2="736" y2="2378"/><text class="c" x="670" y="2345">flimFilter</text><text y="2393"><tspan x="613">+ flimFilter()</tspan><tspan x="613" dy="14.7">+ flimFilter()</tspan><tspan x="613" dy="14.7">+ operator=()</tspan><tspan x="613" dy="14.7">+ flimFilter()</tspan><tspan x="613" dy="14.7">+ ~flimFilter()</tspan><tspan x="613" dy="14.7">+ setSound()</tspan><tspan x="613" dy="14.7">+ ActivateFilter()</tspan><tspan x="613" dy="14.7">+ DeactivateFilter()</tspan><tspan x="613" dy="14.7">+ SetCutoff()</tspan><tspan x="613" dy="14.7">+ GetCutoff()</tspan></text></g>
<g id="n_GameObject"><rect class="b" x="1756" y="1498" width="123" height="178"/><line class="lb" x1="1756" y1="1523" x2="1879" y2="1523"/><line class="lb" x1="1756" y1="1548" x2="1879" y2="1548"/><text class="c" x="1817" y="1515">GameObject</text><text x="1764" y="1539">- regStateGO</text><text y="1563"><tspan x="1764">+ GameObject()</tspan><tspan x="1764" dy="14.7">+ ~GameObject()</tspan><tspan x="1764" dy="14.7">+ operator=()</tspan><tspan x="1764" dy="14.7">+ GameObject()</tspan><tspan x="1764" dy="14.7">+ SubmitEntry()</tspan><tspan x="1764" dy="14.7">+ SubmitExit()</tspan><tspan x="1764" dy="14.7">- SceneEntry()</tspan><tspan x="1764" dy="14.7">- SceneExit()</tspan></text></g>
<g id="n_UpdatableManager"><rect class="r" x="1497" y="1865" width="159" height="163"/><line class="lr" x1="1497" y1="1890" x2="1656" y2="1890"/><line class="lr" x1="1497" y1="1915" x2="1656" y2="1915"/><text class="c" x="1576" y="1882">UpdatableManager</text><text y="1930"><tspan x="1505">+ UpdatableManager()</tspan><tspan x="1505" dy="14.7">+ ~UpdatableManager()</tspan><tspan x="1505" dy="14.7">+ UpdatableManager()</tspan><tspan x="1505" dy="14.7">+ operator=()</tspan><tspan x="1505" dy="14.7">+ Register()</tspan><tspan x="1505" dy="14.7">+ Deregister()</tspan><tspan x="1505" dy="14.7">- ProcessElements()</tspan></text></g>
<g id="n_KEM"><rect class="r" x="1680" y="1865" width="187" height="163"/><line class="lr" x1="1680" y1="1890" x2="1867" y2="1890"/><line class="lr" x1="1680" y1="1915" x2="1867" y2="1915"/><text class="c" x="1773" y="1882">KeyboardEventManager</text><text y="1930"><tspan x="1688">+ KeyboardEventManager()</tspan><tspan x="1688" dy="14.7">+ ~KeyboardEventManager()</tspan><tspan x="1688" dy="14.7">+ operator=()</tspan><tspan x="1688" dy="14.7">+ KeyboardEventManager()</tspan><tspan x="1688" dy="14.7">+ Register()</tspan><tspan x="1688" dy="14.7">+ Deregister()</tspan><tspan x="1688" dy="14.7">+ ProcessKeys()</tspan></text></g>
<g id="n_AlarmableManager"><rect class="r" x="1892" y="1865" width="159" height="163"/><line class="lr" x1="1892" y1="1890" x2="2051" y2="1890"/><line class="lr" x1="1892" y1="1915" x2="2051" y2="1915"/><text class="c" x="1971" y="1882">AlarmableManager</text><text x="1900" y="1906">+ ALARM_NUMBER</text><text y="1930"><tspan x="1900">+ AlarmableManager()</tspan><tspan x="1900" dy="14.7">+ ~AlarmableManager()</tspan><tspan x="1900" dy="14.7">+ AlarmableManager()</tspan><tspan x="1900" dy="14.7">+ operator=()</tspan><tspan x="1900" dy="14.7">+ Register()</tspan><tspan x="1900" dy="14.7">+ Deregister()</tspan><tspan x="1900" dy="14.7">+ ProcessAlarms()</tspan></text></g>
<g id="n_CollisionManager"><rect class="r" x="2075" y="1836" width="214" height="222"/><line class="lr" x1="2075" y1="1861" x2="2289" y2="1861"/><line class="lr" x1="2075" y1="1886" x2="2289" y2="1886"/><text class="c" x="2182" y="1853">CollisionManager</text><text y="1901"><tspan x="2083">+ CollisionManager()</tspan><tspan x="2083" dy="14.7">+ CollisionManager()</tspan><tspan x="2083" dy="14.7">+ operator=()</tspan><tspan x="2083" dy="14.7">+ ~CollisionManager()</tspan><tspan x="2083" dy="14.7">+ SetCollisionPair()</tspan><tspan x="2083" dy="14.7">+ SetCollisionSelf()</tspan><tspan x="2083" dy="14.7">+ SetCollisionTerrain()</tspan><tspan x="2083" dy="14.7">+ AddDeleteCommand()</tspan><tspan x="2083" dy="14.7">- ProcessCollisionTests()</tspan><tspan x="2083" dy="14.7">- UpdateGroupCollisionVolumes()</tspan><tspan x="2083" dy="14.7">- Update()</tspan></text></g>
<g id="n_CameraManager"><rect class="b" x="2314" y="1828" width="145" height="236"/><line class="lb" x1="2314" y1="1853" x2="2459" y2="1853"/><line class="lb" x1="2314" y1="1892" x2="2459" y2="1892"/><text class="c" x="2386" y="1845">CameraManager</text><text y="1868"><tspan x="2322">- currentCam</tspan><tspan x="2322" dy="14.7">- p2DCam</tspan></text><text y="1907"><tspan x="2322">+ CameraManager()</tspan><tspan x="2322" dy="14.7">+ CameraManager()</tspan><tspan x="2322" dy="14.7">+ operator=()</tspan><tspan x="2322" dy="14.7">+ ~CameraManager()</tspan><tspan x="2322" dy="14.7">+ InitCamera()</tspan><tspan x="2322" dy="14.7">+ InitCamera()</tspan><tspan x="2322" dy="14.7">+ MainCamera()</tspan><tspan x="2322" dy="14.7">+ MainCamera()</tspan><tspan x="2322" dy="14.7">+ Get2DCamera()</tspan><tspan x="2322" dy="14.7">+ Get2DCamera()</tspan><tspan x="2322" dy="14.7">+ ShutDown()</tspan></text></g>
<g id="n_GODC"><rect class="b" x="2534" y="1836" width="194" height="222"/><line class="lb" x1="2534" y1="1876" x2="2728" y2="1876"/><line class="lb" x1="2534" y1="1901" x2="2728" y2="1901"/><text x="2542" y="1852">GameObjectDeregistration</text><text class="c" x="2631" y="1867">Command</text><text y="1916"><tspan x="2542">+ GameObjectDeregistration</tspan><tspan x="2542" dy="14.7">Command()</tspan><tspan x="2542" dy="14.7">+ ~GameObjectDeregistration</tspan><tspan x="2542" dy="14.7">Command()</tspan><tspan x="2542" dy="14.7">+ GameObjectDeregistration</tspan><tspan x="2542" dy="14.7">Command()</tspan><tspan x="2542" dy="14.7">+ operator=()</tspan><tspan x="2542" dy="14.7">+ GameObjectDeregistration</tspan><tspan x="2542" dy="14.7">Command()</tspan><tspan x="2542" dy="14.7">+ execute()</tspan></text></g>
<g id="n_FlimSprite"><rect class="b" x="2842" y="1807" width="109" height="280"/><line class="lb" x1="2842" y1="1832" x2="2951" y2="1832"/><line class="lb" x1="2842" y1="1916" x2="2951" y2="1916"/><text class="c" x="2896" y="1824">FlimSprite</text><text y="1847"><tspan x="2850">- _sprite</tspan><tspan x="2850" dy="14.7">- angle</tspan><tspan x="2850" dy="14.7">- scale</tspan><tspan x="2850" dy="14.7">- pos</tspan><tspan x="2850" dy="14.7">- center</tspan></text><text y="1931"><tspan x="2850">+ FlimSprite()</tspan><tspan x="2850" dy="14.7">+ FlimSprite()</tspan><tspan x="2850" dy="14.7">+ operator=()</tspan><tspan x="2850" dy="14.7">+ ~FlimSprite()</tspan><tspan x="2850" dy="14.7">+ FlimSprite()</tspan><tspan x="2850" dy="14.7">+ SetAngle()</tspan><tspan x="2850" dy="14.7">+ GetAngle()</tspan><tspan x="2850" dy="14.7">+ SetScale()</tspan><tspan x="2850" dy="14.7">+ SetScale()</tspan><tspan x="2850" dy="14.7">+ SetScale()</tspan><tspan x="2850" dy="14.7">and 7 more...</tspan></text></g>
<g id="n_Scene"><rect class="b" x="1699" y="2217" width="150" height="427"/><line class="lb" x1="1699" y1="2242" x2="1849" y2="2242"/><line class="lb" x1="1699" y1="2267" x2="1849" y2="2267"/><text class="c" x="1774" y="2234">Scene</text><text y="2282"><tspan x="1707">+ Scene()</tspan><tspan x="1707" dy="14.7">+ Scene()</tspan><tspan x="1707" dy="14.7">+ ~Scene()</tspan><tspan x="1707" dy="14.7">+ operator=()</tspan><tspan x="1707" dy="14.7">+ GetCamera()</tspan><tspan x="1707" dy="14.7">+ SetTerrain()</tspan><tspan x="1707" dy="14.7">+ GetTerrain()</tspan><tspan x="1707" dy="14.7">+ SetCollisionPair()</tspan><tspan x="1707" dy="14.7">+ SetCollisionSelf()</tspan><tspan x="1707" dy="14.7">+ SetCollisionTerrain()</tspan><tspan x="1707" dy="14.7">- Update()</tspan><tspan x="1707" dy="14.7">- Draw()</tspan><tspan x="1707" dy="14.7">- Initialize()</tspan><tspan x="1707" dy="14.7">- Terminate()</tspan><tspan x="1707" dy="14.7">- Register()</tspan><tspan x="1707" dy="14.7">- Deregister()</tspan><tspan x="1707" dy="14.7">- Register()</tspan><tspan x="1707" dy="14.7">- Deregister()</tspan><tspan x="1707" dy="14.7">- Register()</tspan><tspan x="1707" dy="14.7">- Deregister()</tspan><tspan x="1707" dy="14.7">- Register()</tspan><tspan x="1707" dy="14.7">- Deregister()</tspan><tspan x="1707" dy="14.7">- Register()</tspan><tspan x="1707" dy="14.7">- Deregister()</tspan><tspan x="1707" dy="14.7">- SubmitCommand()</tspan></text></g>
<g id="n_map"><rect class="g" x="2696" y="2387" width="160" height="90"/><line class="lg" x1="2696" y1="2427" x2="2856" y2="2427"/><line class="lg" x1="2696" y1="2452" x2="2856" y2="2452"/><text class="c" x="2776" y="2403">std::map&lt; GameObject</text><text class="c" x="2776" y="2418">*, FlimSprite *&gt;</text></g>
<g id="n_flimSound"><rect class="b" x="617" y="2710" width="132" height="325"/><line class="lb" x1="617" y1="2735" x2="749" y2="2735"/><line class="lb" x1="617" y1="2863" x2="749" y2="2863"/><text class="c" x="683" y="2727">flimSound</text><text y="2750"><tspan x="625">- sndID</tspan><tspan x="625" dy="14.7">- is3D</tspan><tspan x="625" dy="14.7">- occlusionEnabled</tspan><tspan x="625" dy="14.7">- occlusionSphere</tspan><tspan x="625" dy="14.7">- position</tspan><tspan x="625" dy="14.7">- orientation</tspan><tspan x="625" dy="14.7">- distanceCurve</tspan><tspan x="625" dy="14.7">- sourceType</tspan></text><text y="2878"><tspan x="625">+ flimSound()</tspan><tspan x="625" dy="14.7">+ flimSound()</tspan><tspan x="625" dy="14.7">+ flimSound()</tspan><tspan x="625" dy="14.7">+ operator=()</tspan><tspan x="625" dy="14.7">+ ~flimSound()</tspan><tspan x="625" dy="14.7">+ getOrientation()</tspan><tspan x="625" dy="14.7">+ setOrientation()</tspan><tspan x="625" dy="14.7">+ getPosition()</tspan><tspan x="625" dy="14.7">+ setPosition()</tspan><tspan x="625" dy="14.7">+ SetOrientation()</tspan><tspan x="625" dy="14.7">and 33 more...</tspan></text></g>
<g id="n_Minimap"><rect class="b" x="2432" y="2753" width="129" height="236"/><line class="lb" x1="2432" y1="2778" x2="2561" y2="2778"/><line class="lb" x1="2432" y1="2803" x2="2561" y2="2803"/><text class="c" x="2496" y="2770">Minimap</text><text y="2818"><tspan x="2440">+ Minimap()</tspan><tspan x="2440" dy="14.7">+ Minimap()</tspan><tspan x="2440" dy="14.7">+ operator=()</tspan><tspan x="2440" dy="14.7">+ Minimap()</tspan><tspan x="2440" dy="14.7">+ Minimap()</tspan><tspan x="2440" dy="14.7">+ ~Minimap()</tspan><tspan x="2440" dy="14.7">+ Alarm0()</tspan><tspan x="2440" dy="14.7">+ AddEnemy()</tspan><tspan x="2440" dy="14.7">+ RemoveEnemy()</tspan><tspan x="2440" dy="14.7">+ AddPlayer()</tspan><tspan x="2440" dy="14.7">+ Draw2D()</tspan><tspan x="2440" dy="14.7">+ UpdatePos()</tspan></text></g>
<g id="n_Tank"><rect class="b" x="2334" y="3114" width="114" height="369"/><line class="lb" x1="2334" y1="3139" x2="2448" y2="3139"/><line class="lb" x1="2334" y1="3311" x2="2448" y2="3311"/><text class="c" x="2391" y="3131">Tank</text><text y="3154"><tspan x="2342">- thirdPerson</tspan><tspan x="2342" dy="14.7">- tankGObj</tspan><tspan x="2342" dy="14.7">- turretGObj</tspan><tspan x="2342" dy="14.7">- canShoot</tspan><tspan x="2342" dy="14.7">- testPt</tspan><tspan x="2342" dy="14.7">- scale</tspan><tspan x="2342" dy="14.7">- pos</tspan><tspan x="2342" dy="14.7">- originalPos</tspan><tspan x="2342" dy="14.7">- turretForward</tspan><tspan x="2342" dy="14.7">- prevPos</tspan><tspan x="2342" dy="14.7">and 23 more...</tspan></text><text y="3326"><tspan x="2342">+ Tank()</tspan><tspan x="2342" dy="14.7">+ Tank()</tspan><tspan x="2342" dy="14.7">+ operator=()</tspan><tspan x="2342" dy="14.7">+ ~Tank()</tspan><tspan x="2342" dy="14.7">+ Update()</tspan><tspan x="2342" dy="14.7">+ Draw()</tspan><tspan x="2342" dy="14.7">+ Draw2D()</tspan><tspan x="2342" dy="14.7">+ SceneEntry()</tspan><tspan x="2342" dy="14.7">+ SceneExit()</tspan><tspan x="2342" dy="14.7">+ KeyPressed()</tspan><tspan x="2342" dy="14.7">and 7 more...</tspan></text></g>
<g id="n_Sentry"><rect class="s" x="2366" y="3547" width="177" height="472"/><line class="lb" x1="2366" y1="3572" x2="2543" y2="3572"/><line class="lb" x1="2366" y1="3744" x2="2543" y2="3744"/><text class="c" x="2454" y="3564">Sentry</text><text y="3587"><tspan x="2374">- pGObj_SpaceSentryLight</tspan><tspan x="2374" dy="14.7">- turretGObj</tspan><tspan x="2374" dy="14.7">- ShipScale</tspan><tspan x="2374" dy="14.7">- ShipPos</tspan><tspan x="2374" dy="14.7">- prevPos</tspan><tspan x="2374" dy="14.7">- ShipRot</tspan><tspan x="2374" dy="14.7">- turretPos</tspan><tspan x="2374" dy="14.7">- firePos</tspan><tspan x="2374" dy="14.7">- ShipTransSpeed</tspan><tspan x="2374" dy="14.7">- maxMoveSpeed</tspan><tspan x="2374" dy="14.7">and 9 more...</tspan></text><text y="3759"><tspan x="2374">+ Sentry()</tspan><tspan x="2374" dy="14.7">+ Sentry()</tspan><tspan x="2374" dy="14.7">+ ~Sentry()</tspan><tspan x="2374" dy="14.7">+ operator=()</tspan><tspan x="2374" dy="14.7">+ SetMap()</tspan><tspan x="2374" dy="14.7">+ Initialize()</tspan><tspan x="2374" dy="14.7">+ Initialize()</tspan><tspan x="2374" dy="14.7">+ Update()</tspan><tspan x="2374" dy="14.7">+ Draw()</tspan><tspan x="2374" dy="14.7">+ Collision()</tspan><tspan x="2374" dy="14.7">+ Collision()</tspan><tspan x="2374" dy="14.7">+ FiredBy()</tspan><tspan x="2374" dy="14.7">+ Collision()</tspan><tspan x="2374" dy="14.7">+ SceneEntry()</tspan><tspan x="2374" dy="14.7">+ SceneExit()</tspan><tspan x="2374" dy="14.7">- Alarm0()</tspan><tspan x="2374" dy="14.7">- Alarm1()</tspan><tspan x="2374" dy="14.7">- Alarm2()</tspan></text></g>
</svg>
